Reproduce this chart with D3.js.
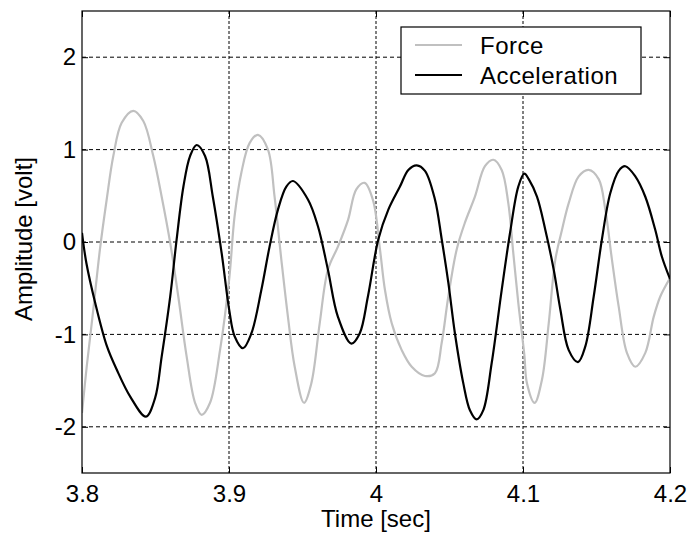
<!DOCTYPE html>
<html>
<head>
<meta charset="utf-8">
<script src="https://cdn.jsdelivr.net/npm/d3@7"></script>
<style>
  body { margin: 0; background: #fff; }
  text { font-family: "Liberation Sans", Arial, sans-serif; fill: #000; }
</style>
</head>
<body>
<svg id="chart" width="689" height="533"></svg>
<script>
// values
const forceTime = [3.800, 3.8032, 3.8077, 3.8122, 3.8168, 3.8213, 3.827, 3.8349, 3.8417, 3.8485, 3.8542, 3.860, 3.8655, 3.8712, 3.8769, 3.8814, 3.8871, 3.8939, 3.9002,
  3.9038, 3.9084, 3.914, 3.9197, 3.9265, 3.931, 3.9356, 3.9401, 3.9447, 3.951, 3.956, 3.9617, 3.9673, 3.9741, 3.981, 3.9866, 3.9923, 3.998,
  4.0027, 4.0061, 4.0107, 4.0175, 4.0243, 4.0333, 4.0401, 4.0447, 4.0492, 4.0549, 4.0605, 4.0673, 4.0741, 4.0798, 4.0855, 4.090, 4.0934, 4.0968, 4.1009,
  4.1027, 4.1079, 4.1129, 4.1175, 4.122, 4.1265, 4.1311, 4.1379, 4.1447, 4.1515, 4.156, 4.1605, 4.1651, 4.1707, 4.1764, 4.1832, 4.1889, 4.1934, 4.200];
const forceVolt = [-1.85, -1.35, -0.73, -0.08, 0.46, 0.93, 1.29, 1.42, 1.31, 0.93, 0.49, -0.01, -0.59, -1.24, -1.74, -1.87, -1.74, -1.17, -0.39,
  0.28, 0.75, 1.07, 1.16, 1.0, 0.49, -0.19, -0.81, -1.35, -1.74, -1.53, -0.88, -0.30, -0.05, 0.24, 0.57, 0.64, 0.45,
  -0.08, -0.52, -0.88, -1.17, -1.35, -1.45, -1.42, -1.09, -0.59, -0.08, 0.21, 0.49, 0.82, 0.89, 0.78, 0.42, -0.12, -0.66, -1.22,
  -1.53, -1.74, -1.49, -0.88, -0.19, 0.13, 0.42, 0.71, 0.78, 0.68, 0.35, -0.19, -0.70, -1.20, -1.35, -1.20, -0.81, -0.59, -0.39];

const accelTime = [3.800, 3.803, 3.809, 3.817, 3.8236, 3.8327, 3.8435, 3.8497, 3.8542, 3.860, 3.8644, 3.869, 3.8735, 3.878, 3.8837, 3.889, 3.895, 3.9002,
  3.9038, 3.9095, 3.9152, 3.922, 3.9276, 3.9333, 3.939, 3.9435, 3.9537, 3.9605, 3.9673, 3.9741, 3.9832, 3.9889, 3.9945,
  4.0016, 4.0084, 4.0163, 4.022, 4.0277, 4.0333, 4.0401, 4.0447, 4.0492, 4.0537, 4.0594, 4.0639, 4.0685, 4.073, 4.0787, 4.0855, 4.0912, 4.0968, 4.1009,
  4.1039, 4.1095, 4.1152, 4.1209, 4.1254, 4.1311, 4.1374, 4.1424, 4.1481, 4.1537, 4.1594, 4.1651, 4.1696, 4.1764, 4.1832, 4.190, 4.1945, 4.200];
const accelVolt = [0.10, -0.23, -0.66, -1.13, -1.38, -1.67, -1.89, -1.69, -1.24, -0.59, 0.03, 0.60, 0.93, 1.05, 0.93, 0.49, -0.12, -0.74,
  -1.02, -1.15, -0.99, -0.52, -0.05, 0.35, 0.60, 0.66, 0.46, 0.17, -0.30, -0.81, -1.10, -0.99, -0.59,
  0.03, 0.35, 0.60, 0.78, 0.83, 0.77, 0.46, 0.03, -0.44, -0.99, -1.53, -1.82, -1.92, -1.82, -1.31, -0.52, 0.10, 0.60, 0.74,
  0.68, 0.49, 0.13, -0.30, -0.73, -1.17, -1.30, -1.13, -0.59, 0.03, 0.53, 0.77, 0.82, 0.71, 0.49, 0.13, -0.16, -0.40];

const xTicks = [3.8, 3.9, 4.0, 4.1, 4.2];
const yTicks = [-2, -1, 0, 1, 2];
const seriesNames = ["Force", "Acceleration"];
const seriesColors = ["#c0c0c0", "#000000"];

const margin = {left: 82, top: 11, right: 19, bottom: 60};
const width = 689, height = 533;
const fontSize = "24px";

const svg = d3.select("#chart");

const x = d3.scaleLinear().domain([3.8, 4.2]).range([margin.left, width - margin.right]);
const y = d3.scaleLinear().domain([-2.5, 2.5]).range([height - margin.bottom, margin.top]);

const x0 = x.range()[0], x1 = x.range()[1];
const y0 = y.range()[0], y1 = y.range()[1];

svg.append("rect").attr("width", width).attr("height", height).attr("fill", "#fff");

// grid
svg.append("g").selectAll("line").data(yTicks).join("line")
  .attr("x1", x0).attr("x2", x1)
  .attr("y1", d => y(d)).attr("y2", d => y(d))
  .attr("stroke", "#000").attr("stroke-width", 1)
  .attr("stroke-dasharray", "4,3");

svg.append("g").selectAll("line").data(xTicks.slice(1, -1)).join("line")
  .attr("x1", d => x(d)).attr("x2", d => x(d))
  .attr("y1", y1).attr("y2", y0)
  .attr("stroke", "#000").attr("stroke-width", 1)
  .attr("stroke-dasharray", "3,2");

// curves
svg.append("clipPath").attr("id", "clip")
  .append("rect").attr("x", x0).attr("y", y1).attr("width", x1 - x0).attr("height", y0 - y1);

const line = d3.line()
  .x(d => x(d[0]))
  .y(d => y(d[1]))
  .curve(d3.curveCatmullRom.alpha(0.5));

const forceData = forceTime.map((t, i) => [t, forceVolt[i]]);
const accelData = accelTime.map((t, i) => [t, accelVolt[i]]);

[forceData, accelData].forEach((data, i) => {
  svg.append("path")
    .datum(data)
    .attr("clip-path", "url(#clip)")
    .attr("fill", "none")
    .attr("stroke", seriesColors[i])
    .attr("stroke-width", 2.2)
    .attr("stroke-linejoin", "round")
    .attr("d", line);
});

// axes, ticks inward like matlab
const tickLen = 6;
const xAxis = d3.axisBottom(x).tickValues(xTicks).tickSizeInner(-tickLen).tickSizeOuter(0)
  .tickPadding(12).tickFormat(d3.format("~g"));
const yAxis = d3.axisLeft(y).tickValues(yTicks).tickSizeInner(-tickLen).tickSizeOuter(0)
  .tickPadding(6).tickFormat(d => d < 0 ? "-" + Math.abs(d) : d);

const gx = svg.append("g").attr("transform", `translate(0,${y0})`).call(xAxis);
const gy = svg.append("g").attr("transform", `translate(${x0},0)`).call(yAxis);
svg.append("g").attr("transform", `translate(0,${y1})`)
  .call(d3.axisTop(x).tickValues(xTicks).tickSizeInner(-tickLen).tickSizeOuter(0).tickFormat(""));
svg.append("g").attr("transform", `translate(${x1},0)`)
  .call(d3.axisRight(y).tickValues(yTicks).tickSizeInner(-tickLen).tickSizeOuter(0).tickFormat(""));

svg.selectAll(".domain").remove();
svg.selectAll(".tick line").attr("stroke", "#000");
[gx, gy].forEach(g => g.selectAll("text")
  .style("font-family", '"Liberation Sans", Arial, sans-serif')
  .style("font-size", fontSize).attr("fill", "#000"));
gx.selectAll("text").attr("dy", "0.71em");

svg.append("rect")
  .attr("x", x0).attr("y", y1).attr("width", x1 - x0).attr("height", y0 - y1)
  .attr("fill", "none").attr("stroke", "#000").attr("stroke-width", 1.2);

// axis titles
svg.append("text")
  .attr("x", (x0 + x1) / 2).attr("y", 527)
  .attr("text-anchor", "middle").style("font-size", fontSize)
  .text("Time [sec]");

svg.append("text")
  .attr("transform", `translate(32,239) rotate(-90)`)
  .attr("text-anchor", "middle").style("font-size", fontSize)
  .text("Amplitude [volt]");

// legend
const legend = svg.append("g");
legend.append("rect")
  .attr("x", 401).attr("y", 27).attr("width", 240).attr("height", 67)
  .attr("fill", "#fff").attr("stroke", "#000").attr("stroke-width", 1.2);

seriesNames.forEach((name, i) => {
  const ly = 45 + i * 30;
  legend.append("line")
    .attr("x1", 415).attr("x2", 462).attr("y1", ly).attr("y2", ly)
    .attr("stroke", seriesColors[i]).attr("stroke-width", 2.2);
  legend.append("text")
    .attr("x", 480).attr("y", ly + 9)
    .style("font-size", fontSize)
    .style("letter-spacing", "0.5px")
    .text(name);
});
</script>
</body>
</html>
